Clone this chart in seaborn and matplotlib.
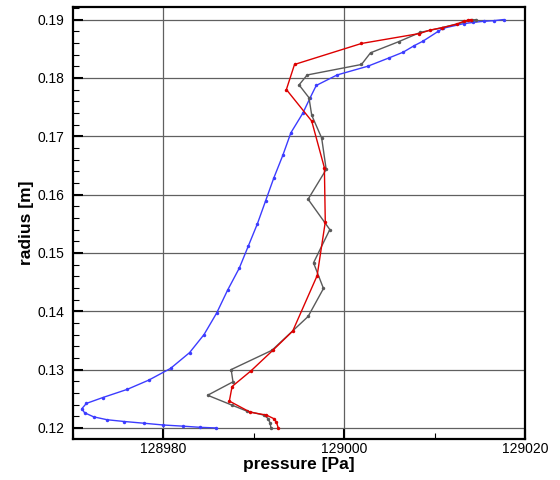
import numpy as np
import pandas as pd
import matplotlib
matplotlib.use("Agg")
import matplotlib.pyplot as plt
from matplotlib.ticker import MultipleLocator, FormatStrFormatter
import seaborn as sns


# Blue profile
blue_radius = [0.1200, 0.1201, 0.1203, 0.1205, 0.1208, 0.1211, 0.1214, 0.1219,
               0.1226, 0.1233, 0.1242, 0.1252, 0.1266, 0.1282, 0.1302, 0.1329,
               0.1360, 0.1397, 0.1436, 0.1474, 0.1512, 0.1550, 0.1589, 0.1628,
               0.1667, 0.1706, 0.1739, 0.1765, 0.1787, 0.1805, 0.1820, 0.1834,
               0.1844, 0.1855, 0.1863, 0.1880, 0.1885, 0.1893, 0.1895, 0.1897,
               0.1898, 0.1900]
blue_pressure = [128985.8, 128984.1, 128982.2, 128980.0, 128977.9, 128975.7,
                 128973.8, 128972.3, 128971.3, 128971.0, 128971.5, 128973.3,
                 128976.0, 128978.4, 128980.8, 128982.9, 128984.5, 128985.9,
                 128987.1, 128988.4, 128989.4, 128990.4, 128991.3, 128992.2,
                 128993.2, 128994.1, 128995.4, 128996.2, 128996.9, 128999.2,
                 129002.6, 129004.9, 129006.5, 129007.7, 129008.7, 129010.4,
                 129010.9, 129013.2, 129014.2, 129015.4, 129016.5, 129017.6]

# Gray profile
gray_radius = [0.1200, 0.1208, 0.1216, 0.1222, 0.1229, 0.1239, 0.1256, 0.1279,
               0.1300, 0.1333, 0.1391, 0.1439, 0.1483, 0.1540, 0.1592, 0.1643,
               0.1697, 0.1736, 0.1766, 0.1788, 0.1805, 0.1823, 0.1843, 0.1862,
               0.1878, 0.1886, 0.1899, 0.1900]
gray_pressure = [128991.9, 128991.8, 128991.6, 128991.1, 128989.2, 128987.6,
                 128984.9, 128987.7, 128987.5, 128992.0, 128996.0, 128997.7,
                 128996.6, 128998.4, 128996.0, 128998.0, 128997.5, 128996.4,
                 128996.1, 128995.0, 128995.9, 129001.9, 129002.9, 129006.0,
                 129008.4, 129010.8, 129014.1, 129014.6]

# Red profile
red_radius = [0.1200, 0.1210, 0.1216, 0.1222, 0.1227, 0.1246, 0.1271, 0.1298,
              0.1333, 0.1366, 0.1461, 0.1553, 0.1646, 0.1726, 0.1780, 0.1823,
              0.1859, 0.1876, 0.1882, 0.1886, 0.1892, 0.1897, 0.1899, 0.1900]
red_pressure = [128992.7, 128992.5, 128992.2, 128991.4, 128989.6, 128987.3,
                128987.6, 128989.7, 128992.1, 128994.3, 128997.0, 128997.9,
                128997.8, 128996.4, 128993.6, 128994.5, 129001.9, 129008.3,
                129009.5, 129010.8, 129012.4, 129013.2, 129013.7, 129014.0]


sns.set_style("ticks")
plt.rcParams['font.family'] = ['Liberation Sans', 'DejaVu Sans']
plt.rcParams['text.color'] = 'black'
plt.rcParams['axes.labelcolor'] = 'black'
plt.rcParams['xtick.color'] = 'black'
plt.rcParams['ytick.color'] = 'black'

fig = plt.figure(figsize=(5.6, 4.8), dpi=100)
ax = fig.add_axes([0.130, 0.0854, 0.808, 0.8994])

profiles = [
    (blue_pressure, blue_radius, '#3c3cff'),
    (gray_pressure, gray_radius, '#5a5a5a'),
    (red_pressure, red_radius, '#dd0000'),
]
for p, r, c in profiles:
    df = pd.DataFrame({'pressure': p, 'radius': r})
    sns.lineplot(data=df, x='pressure', y='radius', sort=False, estimator=None,
                 color=c, linewidth=1.0, marker='o', markersize=2.5,
                 markeredgewidth=0, ax=ax)

ax.set_xlim(128970, 129020)
ax.set_ylim(0.1181, 0.1921)

ax.xaxis.set_major_locator(MultipleLocator(20))
ax.xaxis.set_minor_locator(MultipleLocator(10))
ax.xaxis.set_major_formatter(FormatStrFormatter('%.0f'))
ax.yaxis.set_major_locator(MultipleLocator(0.01))
ax.yaxis.set_minor_locator(MultipleLocator(0.002))
ax.yaxis.set_major_formatter(FormatStrFormatter('%.2f'))

ax.grid(True, which='major', color='#606060', linewidth=0.9)
ax.set_axisbelow(True)
ax.tick_params(which='both', direction='in', top=False, right=False,
               bottom=True, left=True, color='black')
ax.tick_params(which='major', length=7, width=1.5, labelsize=10)
ax.tick_params(which='minor', length=4, width=0.8)
ax.tick_params(axis='x', pad=2)
ax.tick_params(axis='y', pad=6)

for s in ax.spines.values():
    s.set_visible(True)
    s.set_color('black')
    s.set_linewidth(1.6)

ax.set_xlabel('pressure [Pa]', fontsize=12.5, fontweight='bold', labelpad=1)
ax.set_ylabel('radius [m]', fontsize=12.5, fontweight='bold', labelpad=2.5)

fig.savefig('out.png', dpi=100)
